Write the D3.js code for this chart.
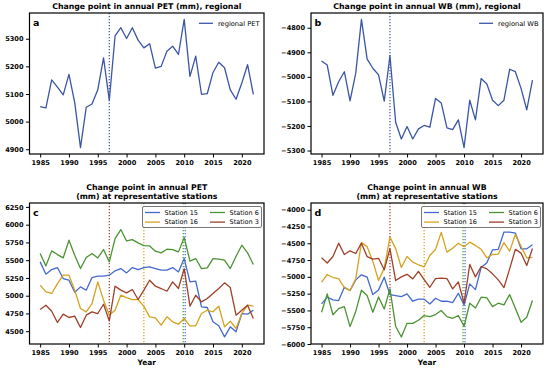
<!DOCTYPE html>
<meta charset="utf-8">
<script src="https://cdn.jsdelivr.net/npm/d3@7"></script>
<style>
body{margin:0;background:#fff;}
text{font-family:"DejaVu Sans",sans-serif;}
</style>
<div id="vis"></div>
<script>
// annual series, 1985-2022
const years = [1985,1986,1987,1988,1989,1990,1991,1992,1993,1994,1995,1996,1997,1998,1999,2000,2001,2002,2003,2004,
               2005,2006,2007,2008,2009,2010,2011,2012,2013,2014,2015,2016,2017,2018,2019,2020,2021,2022];

const petRegional = [5054,5050,5151,5125,5097,5171,5069,4906,5052,5064,5115,5231,5078,5310,5340,5301,5340,5295,5267,5282,
                     5194,5200,5255,5273,5243,5370,5164,5237,5099,5101,5178,5215,5195,5115,5081,5140,5206,5099];
const wbRegional = [-4935,-4952,-5075,-5020,-4979,-5098,-4985,-4766,-4928,-4965,-4992,-5099,-4914,-5185,-5253,-5202,-5253,-5212,-5198,-5205,
                    -5088,-5106,-5208,-5215,-5175,-5288,-5095,-5175,-5007,-5029,-5095,-5117,-5095,-4969,-4979,-5047,-5134,-5013];

const petS15 = [5476,5303,5368,5396,5242,5218,5049,5124,5077,5256,5275,5275,5289,5350,5382,5321,5396,5368,5396,5406,
                5382,5359,5359,5396,5335,5523,5195,5204,4843,4834,4632,4576,4421,4562,4491,4749,4740,4796];
const petS16 = [5148,5054,5031,5171,5289,5289,5078,4820,4773,4890,5195,4937,4727,4796,5007,4974,4946,4946,4850,4702,
                4687,4585,4702,4632,4599,4679,4576,4576,4749,4796,4773,4852,4562,4641,4538,4749,4866,4852];
const petS6 = [5593,5420,5631,5579,5532,5781,5570,5382,5537,5593,5532,5650,5476,5804,5931,5771,5790,5743,5705,5700,
               5626,5603,5654,5650,5617,5819,5486,5523,5382,5392,5523,5514,5500,5382,5556,5711,5603,5439];
const petS3 = [4805,4866,4782,4623,4740,4693,4712,4552,4726,4773,4749,4880,4646,5134,5078,5040,5087,4946,5078,5218,
               5134,5101,5063,5195,5101,5382,4852,5007,4913,4960,5030,5101,5181,5115,4726,4796,4866,4679];

const wbS15 = [-5403,-5303,-5343,-5353,-5154,-5204,-5045,-4970,-5005,-5264,-5194,-5005,-5264,-5279,-5294,-5254,-5363,-5333,-5333,-5403,
               -5318,-5363,-5363,-5383,-5244,-5420,-5104,-5190,-4860,-4790,-4597,-4590,-4333,-4333,-4348,-4582,-4582,-4522];
const wbS16 = [-5080,-4965,-5010,-5025,-5160,-5204,-5030,-4490,-4550,-4770,-5055,-4870,-4408,-4580,-4860,-4697,-4781,-4820,-4850,-4682,
               -4590,-4338,-4632,-4575,-4500,-4552,-4483,-4532,-4590,-4716,-4667,-4660,-4490,-4617,-4370,-4545,-4716,-4710];
const wbS6 = [-5527,-5254,-5565,-5473,-5443,-5741,-5515,-5199,-5279,-5527,-5299,-5478,-5179,-5735,-5895,-5692,-5692,-5647,-5577,-5592,
              -5562,-5502,-5592,-5617,-5577,-5736,-5393,-5463,-5303,-5313,-5443,-5393,-5418,-5264,-5468,-5677,-5602,-5353];
const wbS3 = [-4716,-4793,-4697,-4498,-4667,-4612,-4652,-4498,-4700,-4736,-4724,-4895,-4582,-5055,-5000,-4962,-5030,-4918,-5040,-5155,
              -5025,-5020,-5025,-5179,-5075,-5390,-4816,-5000,-4846,-4881,-4955,-5045,-5160,-4881,-4590,-4647,-4831,-4577];

const stations = ["Station 15", "Station 16", "Station 6", "Station 3"];
const stationColors = {"Station 15": "#4469cf", "Station 16": "#d4a21e", "Station 6": "#4a9432", "Station 3": "#9e3f28"};
const regionalColor = "#3b55a6";

// change points: [year, series]
const changeRegional = [[1997, "regional"]];
const changeStations = [[1997, "Station 3"], [2003, "Station 16"], [2010, "Station 6"], [2010, "Station 15"]];

const xTicks = [1985, 1990, 1995, 2000, 2005, 2010, 2015, 2020];
const yTicksA = [4900, 5000, 5100, 5200, 5300];
const yTicksB = [-5300, -5200, -5100, -5000, -4900, -4800];
const yTicksC = [4500, 4750, 5000, 5250, 5500, 5750, 6000, 6250];
const yTicksD = [-6000, -5750, -5500, -5250, -5000, -4750, -4500, -4250, -4000];
const yLimC = [4320, 6305];
const yLimD = [-6000, -3900];

const svg = d3.select("#vis").append("svg")
  .attr("width", 550)
  .attr("height", 369);

// matplotlib style 5% margins
function padded(ext) {
  const m = (ext[1] - ext[0]) * 0.05;
  return [ext[0] - m, ext[1] + m];
}

function drawPanel(p) {
  const x = d3.scaleLinear().domain(padded(d3.extent(years))).range([p.left, p.right]);
  const allVals = p.series.flatMap(s => s.values);
  const y = d3.scaleLinear().domain(p.yLim || padded(d3.extent(allVals))).range([p.bottom, p.top]);
  const g = svg.append("g");

  const xa = g.append("g")
    .attr("transform", `translate(0,${p.bottom})`)
    .call(d3.axisBottom(x).tickValues(xTicks).tickFormat(d3.format("d")).tickSize(3.5).tickPadding(2.5));
  const ya = g.append("g")
    .attr("transform", `translate(${p.left},0)`)
    .call(d3.axisLeft(y).tickValues(p.yTicks).tickFormat(d => d.toString().replace("-", "\u2212")).tickSize(3.5).tickPadding(2.5));
  [xa, ya].forEach(a => {
    a.select(".domain").remove();
    a.attr("font-family", null).attr("font-size", 6.6).attr("font-weight", "bold");
    a.selectAll("line").attr("stroke", "#000").attr("stroke-width", 1);
  });

  // change point lines
  const seen = {};
  p.changes.forEach(([yr, s]) => {
    const n = p.changes.filter(c => c[0] === yr).length;
    const k = seen[yr] = (seen[yr] === undefined ? 0 : seen[yr] + 1);
    const off = (k - (n - 1) / 2) * 2;
    g.append("line")
      .attr("x1", x(yr) + off).attr("x2", x(yr) + off)
      .attr("y1", p.top).attr("y2", p.bottom)
      .attr("stroke", s === "regional" ? regionalColor : stationColors[s])
      .attr("stroke-width", 1.2)
      .attr("stroke-dasharray", "1.2,1.8");
  });

  const line = d3.line().x((d, i) => x(years[i])).y(d => y(d));
  p.series.forEach(s => {
    g.append("path")
      .datum(s.values)
      .attr("d", line)
      .attr("fill", "none")
      .attr("stroke", s.color)
      .attr("stroke-width", 1.3)
      .attr("stroke-linejoin", "round");
  });

  g.append("rect")
    .attr("x", p.left).attr("y", p.top)
    .attr("width", p.right - p.left).attr("height", p.bottom - p.top)
    .attr("fill", "none").attr("stroke", "#000").attr("stroke-width", 1.2);

  const cx = (p.left + p.right) / 2;
  p.title.forEach((t, i) => {
    g.append("text")
      .attr("x", cx)
      .attr("y", p.top - 4 - (p.title.length - 1 - i) * 8.6)
      .attr("text-anchor", "middle")
      .attr("font-size", 7.8).attr("font-weight", "bold")
      .text(t);
  });

  g.append("text")
    .attr("x", p.left + 3.5).attr("y", p.top + 13)
    .attr("font-size", 9.5).attr("font-weight", "bold")
    .text(p.label);

  if (p.xlabel) {
    g.append("text")
      .attr("x", cx).attr("y", p.bottom + 21)
      .attr("text-anchor", "middle")
      .attr("font-size", 7.4).attr("font-weight", "bold")
      .text(p.xlabel);
  }

  if (p.series.length === 1) {
    const s = p.series[0];
    const t = g.append("text")
      .attr("y", p.top + 12.5)
      .attr("font-size", 6.7)
      .text(s.name);
    const tw = t.node().getComputedTextLength();
    const tx = p.right - 4.5 - tw;
    t.attr("x", tx);
    g.append("line")
      .attr("x1", tx - 19).attr("x2", tx - 5)
      .attr("y1", p.top + 10.3).attr("y2", p.top + 10.3)
      .attr("stroke", s.color).attr("stroke-width", 1.3);
  } else {
    const bw = 119, bh = 21;
    const bx = p.right - 2.5 - bw, by = p.top + 3.5;
    g.append("rect")
      .attr("x", bx).attr("y", by).attr("width", bw).attr("height", bh)
      .attr("rx", 1.5)
      .attr("fill", "#fff").attr("fill-opacity", 0.85)
      .attr("stroke", "#555").attr("stroke-width", 0.8);
    p.series.forEach((s, i) => {
      const col = Math.floor(i / 2), row = i % 2;
      const lx = bx + 2.5 + col * 65;
      const ly = by + 6 + row * 9.6;
      g.append("line")
        .attr("x1", lx).attr("x2", lx + 15)
        .attr("y1", ly).attr("y2", ly)
        .attr("stroke", s.color).attr("stroke-width", 1.3);
      g.append("text")
        .attr("x", lx + 19.5).attr("y", ly + 2.3)
        .attr("font-size", 6.5)
        .text(s.name);
    });
  }
}

const petStations = [petS15, petS16, petS6, petS3];
const wbStations = [wbS15, wbS16, wbS6, wbS3];

drawPanel({
  left: 29.5, right: 264, top: 13, bottom: 154,
  title: ["Change point in annual PET (mm), regional"], label: "a",
  series: [{name: "regional PET", values: petRegional, color: regionalColor}],
  yTicks: yTicksA, changes: changeRegional
});
drawPanel({
  left: 311, right: 543, top: 13, bottom: 154,
  title: ["Change point in annual WB (mm), regional"], label: "b",
  series: [{name: "regional WB", values: wbRegional, color: regionalColor}],
  yTicks: yTicksB, changes: changeRegional
});
drawPanel({
  left: 29.5, right: 264, top: 203, bottom: 344,
  title: ["Change point in annual PET", "(mm) at representative stations"], label: "c",
  series: stations.map((s, i) => ({name: s, values: petStations[i], color: stationColors[s]})),
  yTicks: yTicksC, yLim: yLimC, changes: changeStations, xlabel: "Year"
});
drawPanel({
  left: 311, right: 543, top: 203, bottom: 344,
  title: ["Change point in annual WB", "(mm) at representative stations"], label: "d",
  series: stations.map((s, i) => ({name: s, values: wbStations[i], color: stationColors[s]})),
  yTicks: yTicksD, yLim: yLimD, changes: changeStations, xlabel: "Year"
});
</script>
